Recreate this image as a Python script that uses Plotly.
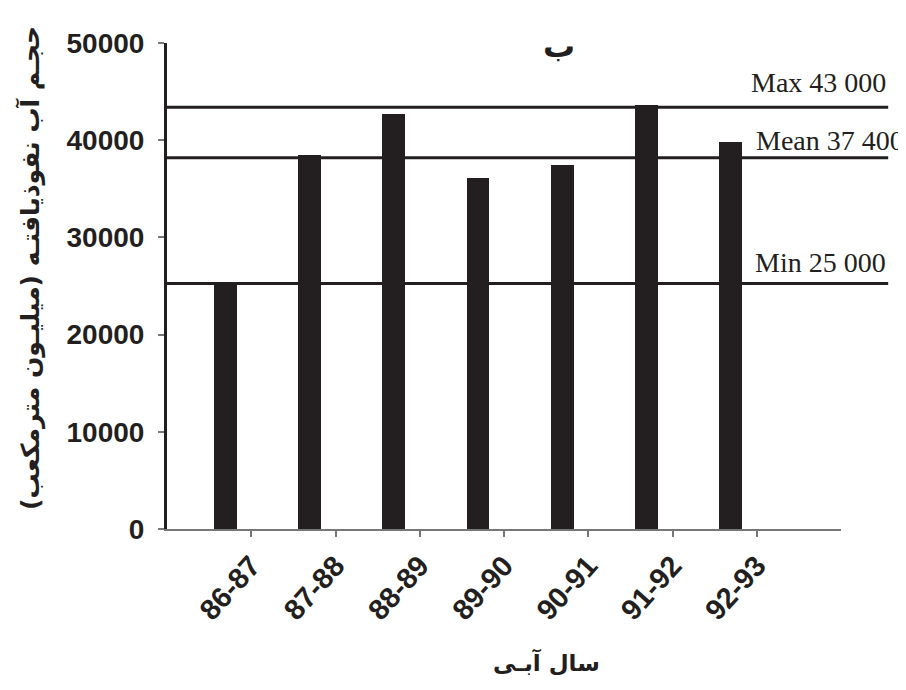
import numpy as np
import plotly.graph_objects as go

years = ["86-87", "87-88", "88-89", "89-90", "90-91", "91-92", "92-93"]
volumes = [25300, 38500, 42700, 36100, 37450, 43600, 39800]

ref_labels = ["Max 43 000", "Mean 37 400", "Min 25 000"]
ref_values = [43400, 38200, 25250]
label_values = [45900, 40000, 27450]

y_ticks = [0, 10000, 20000, 30000, 40000, 50000]
y_tick_text = ["0", "10000", "20000", "30000", "40000", "50000"]

title_text = "ب"
y_title = "حجـم آب نفوذیافتـه (میلیـون مترمکعب)"
x_title = "سال آبـی"

ink = "#231f20"

# the page body adds an 8px margin; compensate so the plot area lands at 167..841 x 43..529
fig = go.Figure()
xpos = np.arange(len(years)) + 0.69
fig.add_trace(go.Bar(x=xpos, y=volumes, width=0.27, marker=dict(color=ink, line=dict(width=0)),
                     showlegend=False))

for v in ref_values:
    fig.add_shape(type="line", xref="paper", yref="y", x0=0, x1=1.07, y0=v, y1=v,
                  line=dict(color=ink, width=3))

label_x = [1.07, 1.096, 1.07]
for t, v, lx in zip(ref_labels, label_values, label_x):
    fig.add_annotation(text=t, xref="paper", yref="y", x=lx, y=v, xanchor="right", yanchor="middle",
                       showarrow=False, font=dict(family="Liberation Serif", size=28, color=ink))

fig.add_annotation(text=title_text, xref="paper", yref="paper", x=(559-167)/674, y=(529-46)/486,
                   xanchor="center", yanchor="middle", showarrow=False,
                   font=dict(family="DejaVu Sans", size=32, color=ink, weight="bold"))
fig.add_annotation(text=y_title, xref="paper", yref="paper", x=(30-167)/674, y=(529-268)/486,
                   xanchor="center", yanchor="middle", showarrow=False, textangle=-90,
                   font=dict(family="DejaVu Sans", size=25, color=ink, weight="bold"))
fig.add_annotation(text=x_title, xref="paper", yref="paper", x=(546-167)/674, y=(529-662)/486,
                   xanchor="center", yanchor="middle", showarrow=False,
                   font=dict(family="DejaVu Sans", size=23, color=ink, weight="bold"))

fig.update_layout(
    width=898, height=682,
    margin=dict(l=159, r=65, t=35, b=161),
    plot_bgcolor="white", paper_bgcolor="white",
    bargap=0,
)
fig.update_xaxes(range=[0, 8], tickmode="array", tickvals=list(range(1, len(years) + 1)), ticktext=years,
                 tickangle=-48, ticks="outside", ticklen=6, tickwidth=1.5, tickcolor="#777777",
                 ticklabelstandoff=0, automargin=False,
                 showline=True, linecolor="#777777", linewidth=2, showgrid=False, zeroline=False,
                 tickfont=dict(family="Liberation Sans", size=29, color=ink, weight="bold"))
fig.update_yaxes(range=[0, 50000], tickmode="array", tickvals=y_ticks, ticktext=y_tick_text,
                 ticks="outside", ticklen=6, automargin=False, ticklabelstandoff=8,
                 tickwidth=1.5, tickcolor="#777777", showline=True, linecolor=ink, linewidth=3,
                 showgrid=False, zeroline=False,
                 tickfont=dict(family="Liberation Sans", size=28, color=ink, weight="bold"))

fig.write_html("out.html")
